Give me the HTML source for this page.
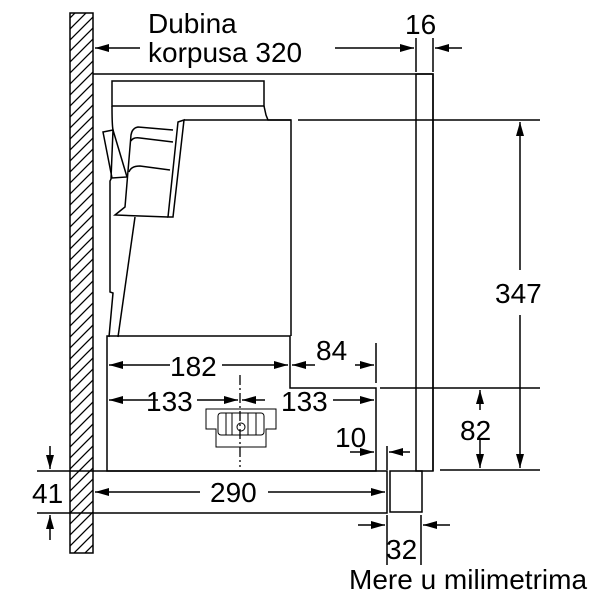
<!DOCTYPE html>
<html><head><style>body{margin:0;background:#fff}svg{display:block}</style></head><body>
<svg width="600" height="600" viewBox="0 0 600 600" xmlns="http://www.w3.org/2000/svg" font-family="Liberation Sans, sans-serif">
<defs>
<pattern id="h" patternUnits="userSpaceOnUse" width="11" height="11">
<path d="M-1,12 L12,-1 M-6,6 L6,-6 M5,17 L17,5" stroke="#000" stroke-width="1.3"/>
</pattern>
<marker id="a" markerWidth="14" markerHeight="8" refX="14" refY="4" orient="auto" markerUnits="userSpaceOnUse"><path d="M0,0 L14,4 L0,8z" fill="#000"/></marker>
</defs>
<g fill="none" stroke="#000" stroke-width="1.5">
<rect x="70" y="13" width="23" height="540" fill="url(#h)"/>
<path d="M93,74 H433 V471"/>
<rect x="416" y="74" width="17" height="397"/>
<path d="M112,81 H264 V106 H112 Z"/>
<path d="M264,106 L266,115 L268,120 H291 V336"/>
<path d="M184,120 H291"/>
<path d="M112,106 Q112,125 113,130 L111,179 L110,181 V292 L113,293 L109,337"/>
<path d="M103,132 L113,130 L127,177 L112,178 Z"/>
<path d="M178,122 L184,120 L173,217 L168,217 Z"/>
<path d="M173,130 L138,127 Q132,128 131,135 L125,207 L115,215 L168,217"/>
<path d="M131,141 Q133,137 140,138 L173,142"/>
<path d="M129,172 Q131,166 140,166 L170,170"/>
<path d="M135,217 L118,337"/>
<path d="M107,336 H290 V388 H376 V471 H107 Z"/>
<path d="M93,471 H387 V513 H93"/>
<rect x="390" y="471" width="32" height="41"/>
<path d="M298,120 H540 M440,470 H540 M380,388 H540"/>
<path d="M376,343 V383 M387,446 V470 M416,38 V72 M433,38 V72 M387,515 V565 M421,515 V565 M37,471 H93 M37,513 H93"/>
</g>
<g stroke="#000" stroke-width="1.3" fill="none">
<path d="M240,375 V467" stroke-dasharray="10,3,2,3"/>
<path d="M206,409 H276 V429 H266 V447 H216 V429 H206 Z" stroke-width="1"/>
<rect x="218" y="413" width="46" height="22" rx="3" stroke-width="1"/>
<path d="M226,413 V435 M232,413 V435 M248,413 V435 M256,413 V435" stroke-width="1"/>
<circle cx="241" cy="427" r="4" stroke-width="1"/>
</g>
<g stroke="#000" stroke-width="1.5" marker-end="url(#a)">
<path d="M140,48 H95"/>
<path d="M335,48 H414"/>
<path d="M462,48 H435"/>
<path d="M520,270 V122"/>
<path d="M520,315 V468"/>
<path d="M480,410 V390"/>
<path d="M480,440 V468"/>
<path d="M170,365 H109"/>
<path d="M222,365 H288"/>
<path d="M315,365 H292"/>
<path d="M355,365 H374"/>
<path d="M158,400 H109"/>
<path d="M197,400 H238"/>
<path d="M265,400 H242"/>
<path d="M333,400 H374"/>
<path d="M350,452 H374"/>
<path d="M410,452 H389"/>
<path d="M200,492 H95"/>
<path d="M268,492 H385"/>
<path d="M358,525 H385"/>
<path d="M450,525 H423"/>
<path d="M50,446 V469"/>
<path d="M50,540 V515"/>
</g>
<g font-size="28" fill="#000">
<text x="148" y="33">Dubina</text>
<text x="148" y="62">korpusa 320</text>
<text x="405" y="34">16</text>
<text x="495" y="303">347</text>
<text x="460" y="440">82</text>
<text x="170" y="376">182</text>
<text x="316" y="360">84</text>
<text x="146" y="411">133</text>
<text x="281" y="411">133</text>
<text x="335" y="447">10</text>
<text x="32" y="503">41</text>
<text x="210" y="502">290</text>
<text x="386" y="559">32</text>
<text x="349" y="589">Mere u milimetrima</text>
</g>
</svg>
</body></html>
